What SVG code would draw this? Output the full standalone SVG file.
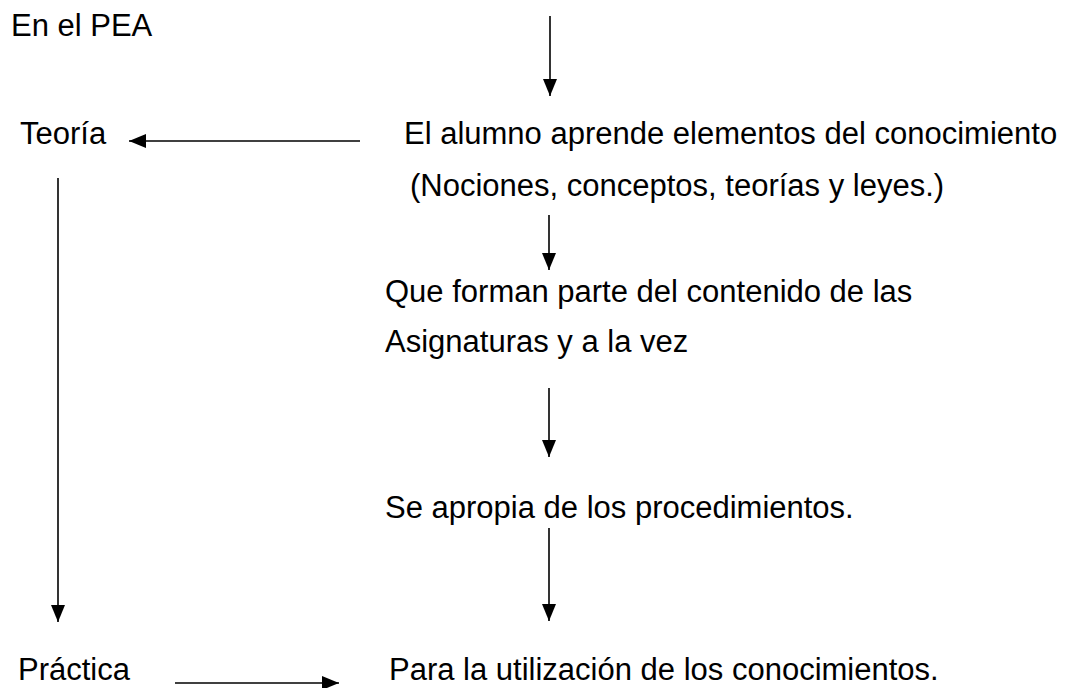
<svg xmlns="http://www.w3.org/2000/svg" width="1066" height="688" viewBox="0 0 1066 688">
<style>
text{font-family:"Liberation Sans",Arial,sans-serif;font-size:31px;fill:#000}
.c{stroke:#000;stroke-width:1.6;fill:none}
</style>
<defs>
<marker id="ah" markerUnits="userSpaceOnUse" markerWidth="17" markerHeight="14" refX="17" refY="7" orient="auto">
<path d="M0,0 L17,7 L0,14 Z" fill="#000"/>
</marker>
</defs>
<rect width="1066" height="688" fill="#fff"/>
<g id="connectors">
<line class="c" x1="550" y1="16" x2="550" y2="96" marker-end="url(#ah)"/>
<line class="c" x1="360" y1="141" x2="129" y2="141" marker-end="url(#ah)"/>
<line class="c" x1="549" y1="215" x2="549" y2="270" marker-end="url(#ah)"/>
<line class="c" x1="549" y1="388" x2="549" y2="457" marker-end="url(#ah)"/>
<line class="c" x1="549" y1="528" x2="549" y2="621" marker-end="url(#ah)"/>
<line class="c" x1="58" y1="178" x2="58" y2="622" marker-end="url(#ah)"/>
<line class="c" x1="175" y1="683" x2="339" y2="683" marker-end="url(#ah)"/>
</g>
<g id="n-pea"><text x="11" y="36">En el PEA</text></g>
<g id="n-teoria"><text x="20" y="144">Teoría</text></g>
<g id="n-alumno"><text x="404" y="144">El alumno aprende elementos del conocimiento</text>
<text x="410" y="196">(Nociones, conceptos, teorías y leyes.)</text></g>
<g id="n-forman"><text x="385" y="302">Que forman parte del contenido de las</text>
<text x="385" y="352">Asignaturas y a la vez</text></g>
<g id="n-apropia"><text x="385" y="518">Se apropia de los procedimientos.</text></g>
<g id="n-practica"><text x="18" y="680">Práctica</text></g>
<g id="n-para"><text x="389" y="680">Para la utilización de los conocimientos.</text></g>
</svg>
